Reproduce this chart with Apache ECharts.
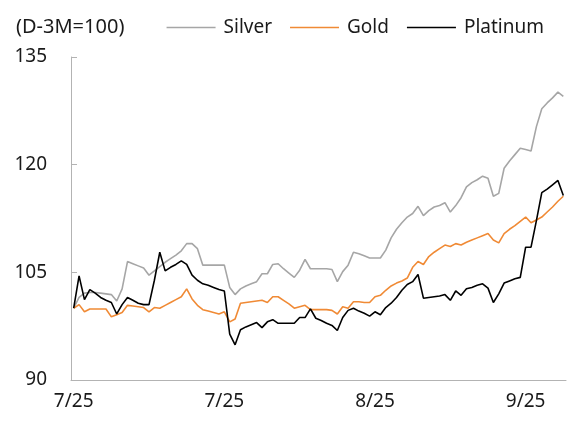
<!DOCTYPE html>
<html>
<head>
<meta charset="utf-8">
<script src="https://cdn.jsdelivr.net/npm/echarts@6/dist/echarts.min.js"></script>
<style>
  html, body { margin: 0; padding: 0; background: #fff; }
  #chart { width: 567px; height: 423px; }
</style>
</head>
<body>
<div id="chart"></div>
<script>
  // tick labels, one per 28 trading points
  const tickLabels = ['7/25', '7/25', '8/25', '9/25']
  const tickEvery = 28

  // index values (D-3M = 100)
  const silver = [
    100.0, 101.5, 102.1, 102.2, 102.2, 102.1, 102.0, 101.9, 101.0, 102.7,
    106.5, 106.2, 105.9, 105.6, 104.6, 105.2, 105.8, 106.4, 106.9, 107.4,
    108.0, 109.0, 109.0, 108.3, 106.0, 106.0, 106.0, 106.0, 106.0, 102.9,
    101.9, 102.7, 103.1, 103.4, 103.7, 104.8, 104.8, 106.1, 106.2, 105.5,
    104.9, 104.3, 105.3, 106.8, 105.5, 105.5, 105.5, 105.5, 105.4, 103.7,
    105.1, 106.0, 107.8, 107.6, 107.3, 107.0, 107.0, 107.0, 108.1, 109.8,
    111.0, 111.9, 112.7, 113.2, 114.2, 112.9, 113.6, 114.1, 114.3, 114.7,
    113.4, 114.3, 115.4, 116.9, 117.5, 117.9, 118.4, 118.1, 115.6, 116.0,
    119.5, 120.5, 121.4, 122.3, 122.1, 121.9, 125.3, 127.8, 128.6, 129.3,
    130.1, 129.5
  ]
  const gold = [
    100.0, 100.5, 99.5, 99.9, 99.9, 99.9, 99.9, 98.8, 99.1, 99.4,
    100.4, 100.3, 100.2, 100.1, 99.5, 100.1, 100.0, 100.4, 100.8, 101.2,
    101.6, 102.7, 101.3, 100.4, 99.8, 99.6, 99.4, 99.2, 99.5, 98.1,
    98.5, 100.7, 100.8, 100.9, 101.0, 101.1, 100.8, 101.6, 101.6, 101.1,
    100.6, 100.0, 100.2, 100.4, 99.8, 99.8, 99.8, 99.8, 99.7, 99.2,
    100.2, 100.0, 100.9, 100.9, 100.8, 100.8, 101.6, 101.8, 102.5, 103.1,
    103.5, 103.8, 104.2, 105.7, 106.5, 106.1, 107.2, 107.8, 108.3, 108.8,
    108.6, 109.0, 108.8, 109.2, 109.5, 109.8, 110.1, 110.4, 109.5, 109.1,
    110.4, 111.0, 111.5, 112.1, 112.7, 111.9, 112.3, 112.7, 113.4, 114.1,
    114.9, 115.6
  ]
  const platinum = [
    100.0, 104.5, 101.2, 102.6, 102.1, 101.5, 101.1, 100.8, 99.2, 100.5,
    101.5, 101.1, 100.7, 100.5, 100.5, 103.9, 107.8, 105.2, 105.7, 106.1,
    106.6, 106.1, 104.6, 103.9, 103.4, 103.2, 102.9, 102.6, 102.4, 96.4,
    94.9, 97.0, 97.4, 97.7, 98.0, 97.3, 98.1, 98.4, 97.9, 97.9,
    97.9, 97.9, 98.7, 98.7, 99.9, 98.6, 98.3, 97.9, 97.6, 96.9,
    98.7, 99.7, 100.0, 99.6, 99.3, 98.9, 99.5, 99.1, 100.1, 100.7,
    101.5, 102.5, 103.3, 103.7, 104.7, 101.4, 101.5, 101.6, 101.7, 101.9,
    101.1, 102.4, 101.8, 102.7, 102.9, 103.2, 103.4, 102.8, 100.8, 102.0,
    103.5, 103.8, 104.1, 104.3, 108.5, 108.5, 112.2, 116.1, 116.6, 117.2,
    117.8, 115.7
  ]

  const days = silver.map((v, i) => String(i))

  const chartInstance = echarts.init(document.getElementById('chart'))
  const font = 'Noto Sans'
  const axisColor = '#b3b3b3'

  const lineSeries = (name, data, color) => ({
    name: name,
    type: 'line',
    data: data,
    symbol: 'none',
    animation: false,
    lineStyle: { color: color, width: 1.6 },
    itemStyle: { color: color }
  })

  chartInstance.setOption({
    backgroundColor: '#fff',
    textStyle: { fontFamily: font },
    title: {
      text: '(D-3M=100)',
      left: 11,
      top: 12,
      textStyle: { fontSize: 20, fontWeight: 'normal', color: '#1a1a1a', fontFamily: font }
    },
    legend: {
      right: 18,
      top: 13,
      icon: 'rect',
      itemWidth: 49,
      itemHeight: 1.6,
      itemGap: 18,
      textStyle: { fontSize: 19, color: '#1a1a1a', fontFamily: font, padding: [0, 0, 0, 3] },
      data: ['Silver', 'Gold', 'Platinum']
    },
    grid: {
      left: 71,
      right: 1,
      top: 57,
      bottom: 43
    },
    xAxis: {
      type: 'category',
      boundaryGap: true,
      data: days,
      axisLine: { lineStyle: { color: axisColor, width: 1 } },
      axisTick: { inside: true, length: 6, interval: tickEvery - 1, lineStyle: { color: axisColor } },
      axisLabel: {
        interval: tickEvery - 1,
        margin: 12,
        fontSize: 19,
        color: '#1a1a1a',
        fontFamily: font,
        formatter: (v, i) => tickLabels[i / tickEvery] || ''
      },
      splitLine: { show: false }
    },
    yAxis: {
      type: 'value',
      min: 90,
      max: 135,
      interval: 15,
      axisLine: { show: true, lineStyle: { color: axisColor, width: 1 } },
      axisTick: { show: true, inside: true, length: 6, lineStyle: { color: axisColor } },
      axisLabel: { margin: 24, fontSize: 19, color: '#1a1a1a', fontFamily: font },
      splitLine: { show: false }
    },
    series: [
      lineSeries('Silver', silver, '#a6a6a6'),
      lineSeries('Gold', gold, '#f08a35'),
      lineSeries('Platinum', platinum, '#000000')
    ]
  })
</script>
</body>
</html>
